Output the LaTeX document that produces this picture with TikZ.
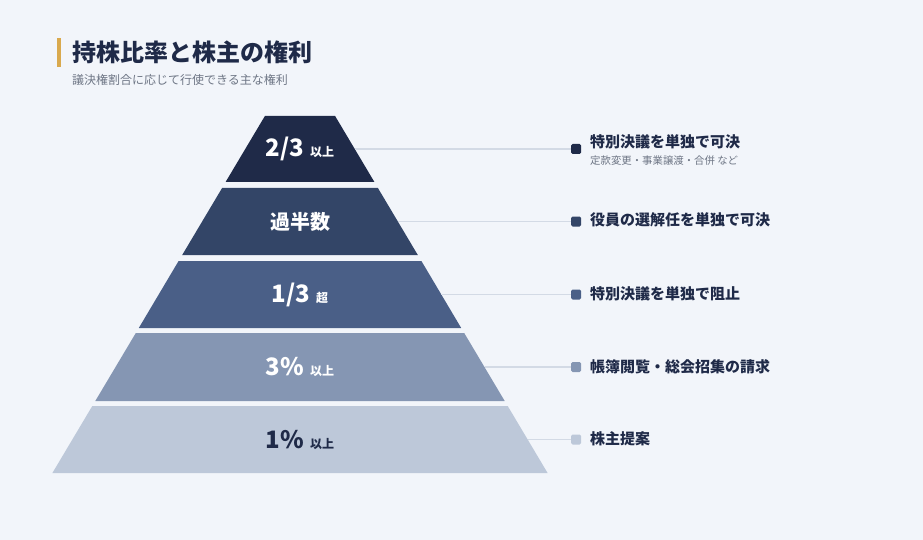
\documentclass[tikz,border=0pt]{standalone}
\usepackage{fontspec}
\setmainfont{Noto Sans CJK JP}
\definecolor{pagebg}{HTML}{F2F5FA}
\definecolor{navy}{HTML}{1F2A48}
\definecolor{tierb}{HTML}{334567}
\definecolor{tierc}{HTML}{4A5F87}
\definecolor{tierd}{HTML}{8596B3}
\definecolor{tiere}{HTML}{BDC8D9}
\definecolor{linkgray}{HTML}{D3DAE5}
\definecolor{goldbar}{HTML}{D9A94E}
\definecolor{subgray}{HTML}{6E7685}
\newcommand{\bigval}[1]{{\fontsize{24}{24}\selectfont\bfseries #1}}
\newcommand{\smallval}[1]{{\fontsize{12}{12}\selectfont\bfseries #1}}
\begin{document}
\begin{tikzpicture}[x=1pt,y=-1pt,
    tierlabel/.style={text=white,inner sep=0pt},
    bullet/.style={minimum size=10pt,inner sep=0pt,rounded corners=1.5pt},
    rightslabel/.style={anchor=west,text=navy,font=\fontsize{15}{15}\selectfont\bfseries,inner sep=0pt},
    link/.style={linkgray,line width=1.2pt}]
    \useasboundingbox[fill=pagebg] (0,0) rectangle (923,540);
    %% Title
    \fill[goldbar] (57,38) rectangle (61,67);
    \node[anchor=west,text=navy,inner sep=0pt,font=\fontsize{24}{24}\selectfont\bfseries] (title) at (72,52) {持株比率と株主の権利};
    \node[anchor=west,text=subgray,inner sep=0pt,font=\fontsize{12}{12}\selectfont] (subtitle) at (72,80) {議決権割合に応じて行使できる主な権利};
    %% Pyramid
    \fill[navy]  (264.9,116) -- (335.1,116) -- (374.4,182) -- (225.6,182) -- cycle;
    \fill[tierb] (222.1,188) -- (377.9,188) -- (417.8,255) -- (182.2,255) -- cycle;
    \fill[tierc] (178.6,261) -- (421.4,261) -- (461.2,328) -- (138.8,328) -- cycle;
    \fill[tierd] (135.8,333) -- (464.2,333) -- (504.7,401) -- (95.3,401) -- cycle;
    \fill[tiere] (92.3,406) -- (507.7,406) -- (547.6,473) -- (52.4,473) -- cycle;
    \node[tierlabel] (val1) at (300,149) {\bigval{2/3}\hspace{6pt}\smallval{以上}};
    \node[tierlabel] (val2) at (300,221.5) {{\fontsize{20}{20}\selectfont\bfseries 過半数}};
    \node[tierlabel] (val3) at (300,294.5) {\bigval{1/3}\hspace{6pt}\smallval{超}};
    \node[tierlabel] (val4) at (300,367) {\bigval{3\%}\hspace{6pt}\smallval{以上}};
    \node[tierlabel,text=navy] (val5) at (300,439.5) {\bigval{1\%}\hspace{6pt}\smallval{以上}};
    %% Edge points
    \coordinate (edge1) at (355,149);
    \coordinate (edge2) at (398,221.5);
    \coordinate (edge3) at (441,294.5);
    \coordinate (edge4) at (485,367);
    \coordinate (edge5) at (528,439.5);
    %% Rights
    \node[bullet,fill=navy]  (dot1) at (576,149) {};
    \node[bullet,fill=tierb] (dot2) at (576,221.5) {};
    \node[bullet,fill=tierc] (dot3) at (576,294.5) {};
    \node[bullet,fill=tierd] (dot4) at (576,367) {};
    \node[bullet,fill=tiere] (dot5) at (576,439.5) {};
    \node[rightslabel] (right1) at (590,142) {特別決議を単独で可決};
    \node[anchor=west,text=subgray,inner sep=0pt,font=\fontsize{10.4}{10.4}\selectfont] (note1) at (590,161) {定款変更・事業譲渡・合併 など};
    \node[rightslabel] (right2) at (590,220) {役員の選解任を単独で可決};
    \node[rightslabel] (right3) at (590,294) {特別決議を単独で阻止};
    \node[rightslabel] (right4) at (590,367) {帳簿閲覧・総会招集の請求};
    \node[rightslabel] (right5) at (590,439) {株主提案};
    \draw[link] (edge1) -- (dot1);
    \draw[link] (edge2) -- (dot2);
    \draw[link] (edge3) -- (dot3);
    \draw[link] (edge4) -- (dot4);
    \draw[link] (edge5) -- (dot5);
\end{tikzpicture}
\end{document}
